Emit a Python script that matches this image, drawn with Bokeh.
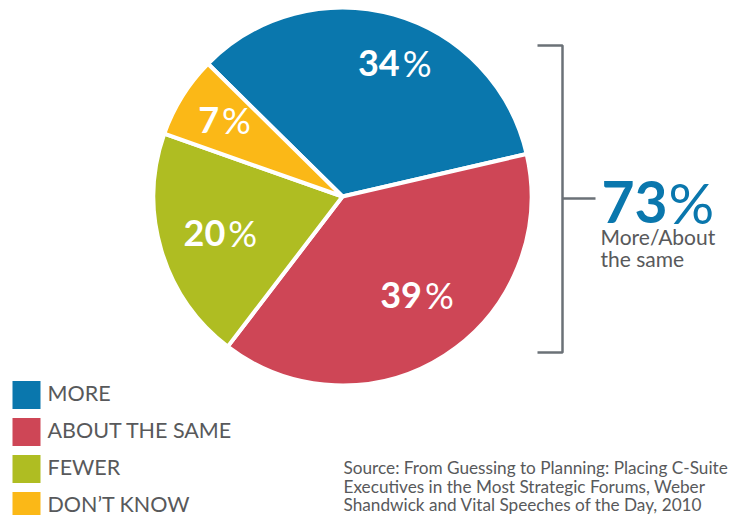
import numpy as np
from bokeh.plotting import figure
from bokeh.models import Range1d
from bokeh.core.properties import value
from bokeh.embed import file_html
from bokeh.resources import INLINE

# ---------------- data ----------------
categories = ["MORE", "ABOUT THE SAME", "FEWER", "DON\u2019T KNOW"]
percentages = [34, 39, 20, 7]
summary_value = 73
summary_lines = ["More/About", "the same"]
source_lines = [
    "Source: From Guessing to Planning: Placing C-Suite",
    "Executives in the Most Strategic Forums, Weber",
    "Shandwick and Vital Speeches of the Day, 2010",
]

# ---------------- style / layout ----------------
colors = ["#0A77AD", "#CE4656", "#AFBD22", "#FBB817"]
W, H = 732, 515
FONT = "Lato"
TEXT_GRAY = "#58595B"
BRACKET_GRAY = "#6B7177"
cx, cy, R = 342, 196, 187          # pie centre / radius in page pixels
start_deg = 135.4                  # where the first slice starts (clockwise after)
label_r_frac = [0.77, 0.68, 0.66, 0.73]
label_shift_deg = [-7.4, 5.6, 1.0, -1.6]


def Y(py):
    return H - py


p = figure(width=W, height=H, x_range=Range1d(0, W), y_range=Range1d(0, H),
           output_backend="svg", toolbar_location=None,
           x_axis_type=None, y_axis_type=None, min_border=0)
p.min_border_left = p.min_border_right = p.min_border_top = p.min_border_bottom = 0
p.grid.visible = False
p.outline_line_color = None
p.background_fill_color = "white"
p.border_fill_color = "white"

# ---------------- pie ----------------
fr = np.array(percentages, dtype=float) / sum(percentages)
cum = np.concatenate([[0.0], np.cumsum(fr)])
a0 = np.radians(start_deg)
a_start = a0 - 2 * np.pi * cum[1:]
a_end = a0 - 2 * np.pi * cum[:-1]
p.wedge(x=[cx] * len(fr), y=[Y(cy)] * len(fr), radius=R + 2,
        start_angle=list(a_start), end_angle=list(a_end), direction="anticlock",
        fill_color=colors, line_color="white", line_width=4)

# slice labels: bold digits + light percent sign
mid = (a_start + a_end) / 2 + np.radians(label_shift_deg)
lab_r = R * np.array(label_r_frac)
lx = cx + lab_r * np.cos(mid)
ly = cy - lab_r * np.sin(mid)
digit_w, pct_w, gap = 20.5, 37, 3
dig_x, dig_y, pct_x, dig_txt = [], [], [], []
for v, x, y in zip(percentages, lx, ly):
    s = str(v)
    total = len(s) * digit_w + gap + pct_w
    split = x - total / 2 + len(s) * digit_w
    dig_x.append(split)
    pct_x.append(split + gap)
    dig_y.append(Y(y + 13.5 - 14.5))
    dig_txt.append(s)
p.text(x=dig_x, y=dig_y, text=dig_txt, text_font=value(FONT), text_font_style="bold",
       text_font_size=value("36px"), text_color="white", text_align="right",
       text_baseline="alphabetic")
p.text(x=pct_x, y=dig_y, text=["%"] * len(dig_txt), text_font=value(FONT),
       text_font_size=value("36px"), text_color="white", text_align="left",
       text_baseline="alphabetic")

# ---------------- bracket + summary ----------------
bx, btop, bbot, bmid = 562, 45, 352, 198
p.multi_line(xs=[[537, bx, bx, 537], [bx, 595]],
             ys=[[Y(btop), Y(btop), Y(bbot), Y(bbot)], [Y(bmid), Y(bmid)]],
             line_color=BRACKET_GRAY, line_width=2.5)
p.text(x=[601], y=[Y(218 - 17)], text=[str(summary_value)], text_font=value(FONT),
       text_font_style="bold", text_font_size=value("57px"), text_color=colors[0],
       text_align="left", text_baseline="alphabetic")
p.text(x=[668], y=[Y(218 - 17)], text=["%"], text_font=value(FONT),
       text_font_size=value("57px"), text_color=colors[0],
       text_align="left", text_baseline="alphabetic")
p.text(x=[600, 600], y=[Y(245 - 9.5), Y(267 - 9.5)], text=summary_lines,
       text_font=value(FONT), text_font_size=value("21px"), text_color=TEXT_GRAY,
       text_align="left", text_baseline="alphabetic")

# ---------------- legend ----------------
leg_y = [394.5 + 37.0 * i for i in range(len(categories))]
p.rect(x=[26] * len(categories), y=[Y(v) for v in leg_y], width=28, height=28,
       fill_color=colors, line_color=None)
p.text(x=[47] * len(categories), y=[Y(v + 7 - 9.5) for v in leg_y], text=categories,
       text_font=value(FONT), text_font_size=value("21.5px"), text_color=TEXT_GRAY,
       text_align="left", text_baseline="alphabetic")

# ---------------- source ----------------
p.text(x=[343] * 3, y=[Y(476 - 9.5), Y(495 - 9.5), Y(513.5 - 9.5)], text=source_lines,
       text_font=value(FONT), text_font_size=value("17.2px"), text_color=TEXT_GRAY,
       text_align="left", text_baseline="alphabetic")

open("out.html", "w").write(file_html(p, INLINE))
